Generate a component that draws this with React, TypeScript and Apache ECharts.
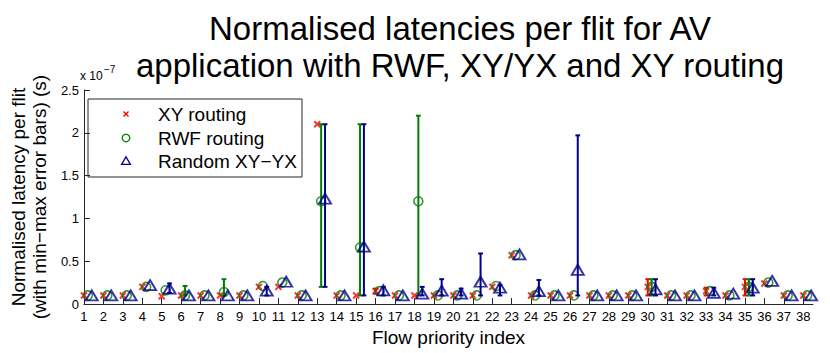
import React, { useEffect, useRef } from 'react';
import * as echarts from 'echarts';

// Flow priority indices (x categories)
const flowIndex = [1, 2, 3, 4, 5, 6, 7, 8, 9, 10, 11, 12, 13, 14, 15, 16, 17, 18, 19, 20, 21, 22, 23, 24, 25, 26, 27, 28, 29, 30, 31, 32, 33, 34, 35, 36, 37, 38];

// Values in units of 1e-7 s
const xyMean = [0.1, 0.1, 0.1, 0.2, 0.09, 0.1, 0.1, 0.1, 0.1, 0.2, 0.2, 0.1, 2.1, 0.1, 0.1, 0.15, 0.1, 0.1, 0.1, 0.1, 0.1, 0.2, 0.57, 0.1, 0.1, 0.1, 0.1, 0.1, 0.1, 0.2, 0.1, 0.1, 0.15, 0.1, 0.2, 0.24, 0.1, 0.1];
const xyMin = [0.1, 0.1, 0.1, 0.2, 0.09, 0.1, 0.1, 0.1, 0.1, 0.2, 0.2, 0.1, 2.1, 0.1, 0.1, 0.12, 0.1, 0.1, 0.1, 0.1, 0.1, 0.2, 0.57, 0.1, 0.1, 0.1, 0.1, 0.1, 0.1, 0.1, 0.1, 0.1, 0.1, 0.1, 0.1, 0.24, 0.1, 0.1];
const xyMax = [0.1, 0.1, 0.1, 0.2, 0.09, 0.1, 0.1, 0.1, 0.1, 0.2, 0.2, 0.1, 2.1, 0.1, 0.1, 0.18, 0.1, 0.1, 0.1, 0.1, 0.1, 0.2, 0.57, 0.1, 0.1, 0.1, 0.1, 0.1, 0.1, 0.29, 0.1, 0.1, 0.19, 0.1, 0.29, 0.24, 0.1, 0.1];

const rwfMean = [0.1, 0.1, 0.1, 0.2, 0.16, 0.1, 0.1, 0.14, 0.1, 0.21, 0.25, 0.1, 1.2, 0.1, 0.66, 0.15, 0.1, 1.2, 0.1, 0.1, 0.1, 0.21, 0.57, 0.1, 0.1, 0.1, 0.1, 0.1, 0.1, 0.2, 0.1, 0.1, 0.15, 0.1, 0.2, 0.25, 0.1, 0.1];
const rwfMin = [0.1, 0.1, 0.1, 0.2, 0.16, 0.1, 0.1, 0.1, 0.1, 0.21, 0.25, 0.1, 0.2, 0.1, 0.1, 0.15, 0.1, 0.1, 0.1, 0.1, 0.1, 0.21, 0.57, 0.1, 0.1, 0.1, 0.1, 0.1, 0.1, 0.1, 0.1, 0.1, 0.15, 0.1, 0.1, 0.25, 0.1, 0.1];
const rwfMax = [0.1, 0.1, 0.1, 0.2, 0.16, 0.21, 0.1, 0.29, 0.1, 0.21, 0.25, 0.1, 2.1, 0.1, 2.1, 0.15, 0.1, 2.2, 0.1, 0.1, 0.1, 0.21, 0.57, 0.1, 0.1, 0.1, 0.1, 0.1, 0.1, 0.29, 0.1, 0.1, 0.15, 0.1, 0.29, 0.25, 0.1, 0.1];

const rndMean = [0.1, 0.1, 0.1, 0.22, 0.18, 0.1, 0.1, 0.1, 0.1, 0.155, 0.26, 0.1, 1.23, 0.1, 0.67, 0.16, 0.1, 0.12, 0.155, 0.12, 0.26, 0.19, 0.58, 0.15, 0.1, 0.4, 0.1, 0.1, 0.1, 0.17, 0.1, 0.1, 0.13, 0.12, 0.19, 0.27, 0.1, 0.1];
const rndMin = [0.1, 0.1, 0.1, 0.22, 0.13, 0.1, 0.1, 0.1, 0.1, 0.1, 0.26, 0.1, 0.2, 0.1, 0.1, 0.1, 0.1, 0.1, 0.1, 0.1, 0.1, 0.1, 0.58, 0.1, 0.1, 0.1, 0.1, 0.1, 0.1, 0.1, 0.1, 0.1, 0.1, 0.12, 0.1, 0.27, 0.1, 0.1];
const rndMax = [0.1, 0.1, 0.1, 0.22, 0.24, 0.1, 0.1, 0.1, 0.1, 0.2, 0.26, 0.1, 2.1, 0.1, 2.1, 0.2, 0.1, 0.2, 0.29, 0.18, 0.59, 0.22, 0.58, 0.28, 0.1, 1.97, 0.1, 0.1, 0.1, 0.29, 0.1, 0.1, 0.19, 0.12, 0.29, 0.27, 0.1, 0.1];

// horizontal offsets of the three series within a flow group
const seriesOffsets = [0, 0.2, 0.4];
const seriesNames = ['XY routing', 'RWF routing', 'Random XY\u2212YX'];
const seriesColors = ['#ff0000', '#008000', '#00008b'];

const FONT = '"Liberation Sans", Arial, Helvetica, sans-serif';

export default function App() {
  const ref = useRef<HTMLDivElement>(null);

  useEffect(() => {
    if (!ref.current) return;
    const chart = echarts.init(ref.current, undefined, { renderer: 'svg' });

    const means = [xyMean, rwfMean, rndMean];
    const mins = [xyMin, rwfMin, rndMin];
    const maxs = [xyMax, rwfMax, rndMax];
    const symbols = ['path://M0,0L10,10M0,10L10,0', 'circle', 'triangle'];
    const symbolSizes = [[6, 6], [9, 9], [12, 10]];
    const borderWidths = [2, 1.6, 1.9];

    const series: any[] = [];
    for (let s = 0; s < 3; s++) {
      const color = seriesColors[s];
      const errData = flowIndex
        .map((f, i) => [f + seriesOffsets[s], mins[s][i], maxs[s][i]])
        .filter((d) => d[2] - d[1] > 1e-9);
      series.push({
        type: 'custom',
        name: seriesNames[s] + ' err',
        z: 2 * s + 1,
        data: errData,
        silent: true,
        renderItem: (params: any, api: any) => {
          const x = api.value(0);
          const lo = api.coord([x, api.value(1)]);
          const hi = api.coord([x, api.value(2)]);
          const cap = 2.4;
          const st = { stroke: color, lineWidth: 2 };
          return {
            type: 'group',
            children: [
              { type: 'line', shape: { x1: lo[0], y1: lo[1], x2: hi[0], y2: hi[1] }, style: st },
              { type: 'line', shape: { x1: lo[0] - cap, y1: lo[1], x2: lo[0] + cap, y2: lo[1] }, style: st },
              { type: 'line', shape: { x1: hi[0] - cap, y1: hi[1], x2: hi[0] + cap, y2: hi[1] }, style: st },
            ],
          };
        },
      });
      series.push({
        type: 'scatter',
        name: seriesNames[s],
        z: 2 * s + 2,
        symbol: symbols[s],
        symbolSize: symbolSizes[s],
        itemStyle: { color: 'none', borderColor: color, borderWidth: borderWidths[s] },
        data: flowIndex.map((f, i) => [f + seriesOffsets[s], means[s][i]]),
      });
    }

    const legX = 88, legY = 99;
    const rowY = [114, 138, 161];
    const mx = 126, tx = 158;

    chart.setOption({
      animation: false,
      title: {
        text: 'Normalised latencies per flit for AV\napplication with RWF, XY/YX and XY routing',
        left: 455,
        top: 5,
        textAlign: 'center',
        textStyle: { fontFamily: FONT, fontSize: 33, fontWeight: 'normal', color: '#000', lineHeight: 37 },
      },
      grid: { left: 81, top: 90, width: 732, height: 214, containLabel: false },
      xAxis: {
        type: 'value',
        min: 1,
        max: 38.5,
        name: 'Flow priority index',
        nameLocation: 'middle',
        nameGap: 20,
        nameTextStyle: { fontFamily: FONT, fontSize: 19, color: '#000' },
        axisLine: { show: true, lineStyle: { color: '#262626', width: 1 } },
        axisTick: { show: true, inside: true, length: 6, lineStyle: { color: '#262626' }, customValues: flowIndex },
        axisLabel: { fontFamily: FONT, fontSize: 13, color: '#000', margin: 6, customValues: flowIndex },
        splitLine: { show: false },
      },
      yAxis: {
        type: 'value',
        min: 0,
        max: 2.5,
        interval: 0.5,
        name: 'Normalised latency per flit\n(with min\u2212max error bars) (s)',
        nameLocation: 'middle',
        nameRotate: 90,
        nameGap: 23,
        nameTextStyle: { fontFamily: FONT, fontSize: 19, color: '#000', lineHeight: 21 },
        axisLine: { show: true, lineStyle: { color: '#262626', width: 1 } },
        axisTick: { show: true, inside: true, length: 6, lineStyle: { color: '#262626' } },
        axisLabel: { fontFamily: FONT, fontSize: 13, color: '#000', margin: 5, formatter: (v: number) => String(v) },
        splitLine: { show: false },
      },
      series,
      graphic: [
        { type: 'text', left: 80, top: 70, style: { text: 'x 10', fontFamily: FONT, fontSize: 12, fill: '#000' } },
        { type: 'text', left: 104, top: 64, style: { text: '\u22127', fontFamily: FONT, fontSize: 10, fill: '#000' } },
        {
          type: 'group',
          z: 100,
          children: [
            { type: 'rect', shape: { x: legX, y: legY, width: 214, height: 78 }, style: { fill: '#fff', stroke: '#262626', lineWidth: 1 } },
            { type: 'line', shape: { x1: mx - 2.5, y1: rowY[0] - 2.5, x2: mx + 2.5, y2: rowY[0] + 2.5 }, style: { stroke: seriesColors[0], lineWidth: 1.4 } },
            { type: 'line', shape: { x1: mx - 2.5, y1: rowY[0] + 2.5, x2: mx + 2.5, y2: rowY[0] - 2.5 }, style: { stroke: seriesColors[0], lineWidth: 1.4 } },
            { type: 'circle', shape: { cx: mx, cy: rowY[1], r: 3.8 }, style: { fill: 'none', stroke: seriesColors[1], lineWidth: 1.3 } },
            { type: 'polygon', shape: { points: [[mx, rowY[2] - 4.2], [mx + 4.4, rowY[2] + 3.4], [mx - 4.4, rowY[2] + 3.4]] }, style: { fill: 'none', stroke: seriesColors[2], lineWidth: 1.3 } },
            ...seriesNames.map((n, i) => ({
              type: 'text',
              x: tx,
              y: rowY[i],
              style: { text: n, fontFamily: FONT, fontSize: 19, fill: '#000', verticalAlign: 'middle', align: 'left' },
            })),
          ],
        },
      ],
    });

    return () => chart.dispose();
  }, []);

  return <div ref={ref} style={{ width: 830, height: 353, marginLeft: -8, marginTop: -8 }} />;
}
